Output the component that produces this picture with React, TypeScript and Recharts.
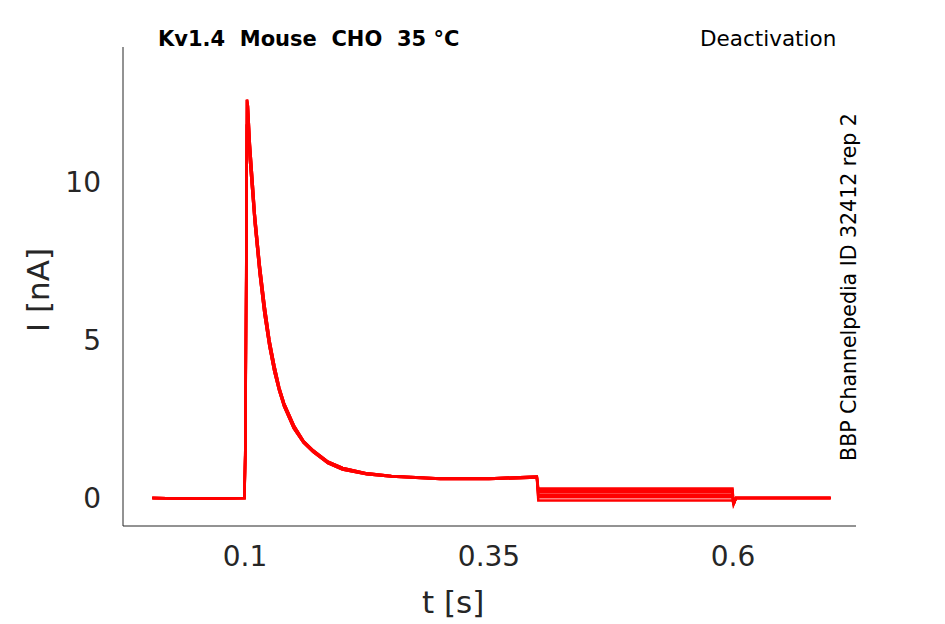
import { LineChart, Line, XAxis, YAxis } from "recharts";

const times = [0.005, 0.05, 0.0995, 0.1005, 0.102, 0.103, 0.105, 0.108, 0.11, 0.115, 0.12, 0.125, 0.13, 0.135, 0.14, 0.15, 0.16, 0.17, 0.185, 0.2, 0.225, 0.25, 0.3, 0.35, 0.399, 0.4005, 0.45, 0.5, 0.55, 0.5995, 0.6005, 0.603, 0.65, 0.7];
const decayA = [0, -0.02, 0, 2.0, 12.6, 12.4, 11.2, 9.9, 9.0, 7.4, 6.1, 5.0, 4.2, 3.5, 3.0, 2.3, 1.8, 1.5, 1.15, 0.95, 0.78, 0.7, 0.62, 0.62, 0.68];
const decayB = [0, -0.02, 0, 1.8, 11.8, 11.9, 10.7, 9.5, 8.7, 7.1, 5.8, 4.8, 4.0, 3.4, 2.9, 2.2, 1.75, 1.45, 1.1, 0.9, 0.75, 0.68, 0.6, 0.6, 0.65];
const deactLevels = [0.3, 0.25, 0.18, 0.1, 0.02, -0.08];
const tail = [-0.2, 0, 0, 0];
const xTicks = [0.1, 0.35, 0.6];
const yTicks = [0, 5, 10];

const buildTrace = (decay: number[], level: number) =>
  times.map((t, i) => ({
    t,
    v: i < decay.length ? decay[i] : i < decay.length + 5 ? level : tail[i - decay.length - 5],
  }));

const traces = deactLevels.map((lv, i) => buildTrace(i % 2 ? decayB : decayA, lv));

const font = "DejaVu Sans, sans-serif";

export default function App() {
  return (
    <div style={{ position: "absolute", left: 0, top: 0, width: 945, height: 624, background: "#fff", fontFamily: font }}>
      <LineChart width={945} height={624} margin={{ top: 47, right: 89, left: 0, bottom: 0 }}>
        <XAxis
          dataKey="t"
          type="number"
          domain={[-0.025, 0.726]}
          ticks={xTicks}
          height={98}
          tickLine={false}
          stroke="#262626"
          tick={{ fontSize: 28, fill: "#262626", fontFamily: font }}
          tickMargin={14}
          allowDuplicatedCategory={false}
        />
        <YAxis
          type="number"
          domain={[-0.886, 14.27]}
          ticks={yTicks}
          width={123}
          tickLine={false}
          stroke="#262626"
          tick={{ fontSize: 28, fill: "#262626", fontFamily: font }}
          tickMargin={16}
        />
        {traces.map((d, i) => (
          <Line
            key={i}
            data={d}
            dataKey="v"
            type="linear"
            stroke="#ff0000"
            strokeWidth={2.5}
            dot={false}
            isAnimationActive={false}
          />
        ))}
      </LineChart>
      <div style={{ position: "absolute", left: 158, top: 27, fontSize: 21, fontWeight: "bold" }}>Kv1.4&nbsp; Mouse&nbsp; CHO&nbsp; 35 °C</div>
      <div style={{ position: "absolute", left: 700, top: 26, fontSize: 21.5 }}>Deactivation</div>
      <div style={{ position: "absolute", left: 422, top: 584, fontSize: 31, color: "#262626" }}>t [s]</div>
      <div style={{ position: "absolute", left: 38, top: 290, fontSize: 31, color: "#262626", transform: "translate(-50%,-50%) rotate(-90deg)", whiteSpace: "nowrap" }}>I [nA]</div>
      <div style={{ position: "absolute", left: 849, top: 287, fontSize: 20.5, transform: "translate(-50%,-50%) rotate(-90deg)", whiteSpace: "nowrap" }}>BBP Channelpedia ID 32412 rep 2</div>
    </div>
  );
}
